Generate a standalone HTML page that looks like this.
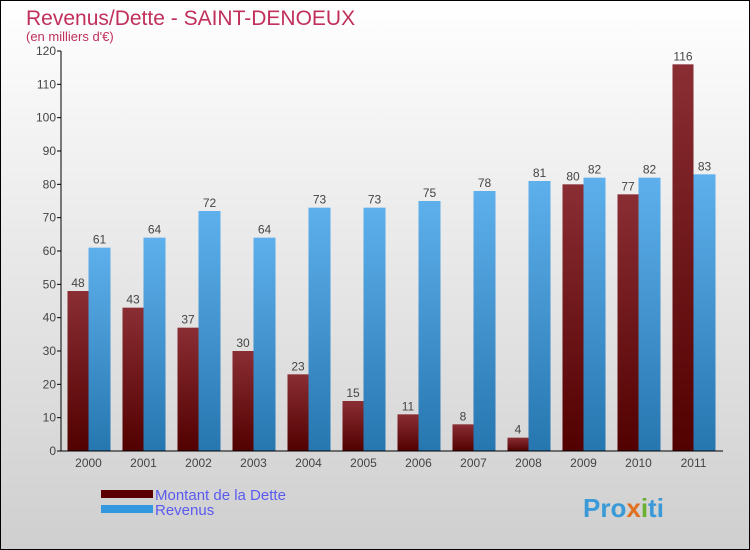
<!DOCTYPE html>
<html><head><meta charset="utf-8"><style>
body{margin:0}
#c{position:relative;width:748px;height:548px;border:1px solid #000;background:linear-gradient(#fff,#f0f0f0 30%,#cfcfcf);font-family:"Liberation Sans",sans-serif;overflow:hidden}
</style></head><body>
<div id="c">
<svg width="748" height="548" xmlns="http://www.w3.org/2000/svg">
<defs>
<linearGradient id="gd" x1="0" y1="0" x2="0" y2="1"><stop offset="0" stop-color="#8a2e34"/><stop offset="1" stop-color="#520000"/></linearGradient>
<linearGradient id="gr" x1="0" y1="0" x2="0" y2="1"><stop offset="0" stop-color="#5eb0ec"/><stop offset="1" stop-color="#2676b0"/></linearGradient>
</defs>
<text x="25" y="24" font-size="21" fill="#c0305a">Revenus/Dette - SAINT-DENOEUX</text>
<text x="25" y="40" font-size="13" fill="#c0305a">(en milliers d'€)</text>
<g id="plot"></g>
<rect x="100" y="489" width="52" height="8" fill="#5a0000"/>
<text x="154" y="499" font-size="15" fill="#5a5af0">Montant de la Dette</text>
<rect x="100" y="504" width="52" height="8" fill="#3398e0"/>
<text x="154" y="514" font-size="15" fill="#5a5af0">Revenus</text>
<text x="582" y="516" font-size="26" font-weight="bold" fill="#3a9ad8">Pro<tspan fill="#e07020">x</tspan><tspan fill="#6ab030">i</tspan>ti</text>
</svg>
</div>
<script>
const categories=["2000","2001","2002","2003","2004","2005","2006","2007","2008","2009","2010","2011"];
const dette=[48,43,37,30,23,15,11,8,4,80,77,116];
const revenus=[61,64,72,64,73,73,75,78,81,82,82,83];
const ticks=[0,10,20,30,40,50,60,70,80,90,100,110,120];
const NS="http://www.w3.org/2000/svg";
const g=document.getElementById('plot');
const x0=60,step=55,y0=450,yMax=120,h=400;
const ys=v=>y0-v/yMax*h;
function mk(t,a){const e=document.createElementNS(NS,t);for(const k in a)e.setAttribute(k,a[k]);g.appendChild(e);return e;}
categories.forEach((c,i)=>{
  const cx=x0+step*i+step/2;
  let r=mk('rect',{x:cx-21,y:ys(dette[i]),width:21,height:y0-ys(dette[i]),fill:'url(#gd)'});
  
  
  r=mk('rect',{x:cx,y:ys(revenus[i]),width:22,height:y0-ys(revenus[i]),fill:'url(#gr)'});
  
  
  let t=mk('text',{x:cx-10.5,y:ys(dette[i])-4,'font-size':12,fill:'#444','text-anchor':'middle'});t.textContent=dette[i];
  
  
  t=mk('text',{x:cx+11,y:ys(revenus[i])-4,'font-size':12,fill:'#444','text-anchor':'middle'});t.textContent=revenus[i];
  
  
  t=mk('text',{x:cx,y:466,'font-size':12,fill:'#444','text-anchor':'middle'});t.textContent=c;
  
  
});
ticks.forEach(v=>{
  mk('line',{x1:56,x2:60,y1:ys(v),y2:ys(v),stroke:'#000'});
  const t=mk('text',{x:55,y:ys(v)+4,'font-size':12,fill:'#444','text-anchor':'end'});t.textContent=v;
  
  
});
let a=mk('line',{x1:60,x2:60,y1:ys(120),y2:y0,stroke:'#000'});


a=mk('line',{x1:60,x2:722,y1:y0,y2:y0,stroke:'#000'});


</script>
</body></html>
